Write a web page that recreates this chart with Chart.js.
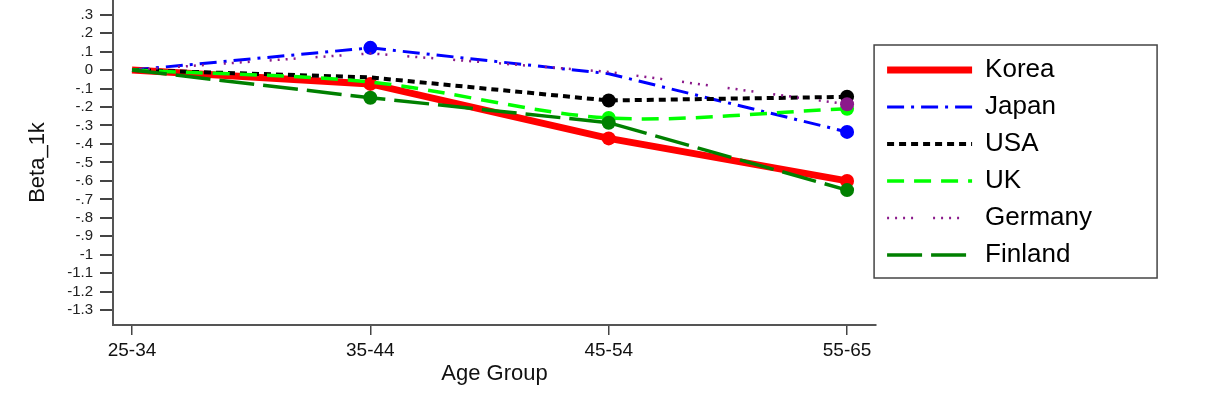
<!DOCTYPE html>
<html lang="en">
<head>
<meta charset="UTF-8">
<title>Beta_1k by Age Group</title>
<style>
    html, body{
        margin: 0;
        padding: 0;
        background: #fff;
    }
    .diagramm{
        position: relative;
        width: 1205px;
        height: 402px;
    }
</style>
</head>
<body>
<div class="diagramm">
    <canvas id="chart"></canvas>
</div>
<script src="https://cdn.jsdelivr.net/npm/chart.js"></script>
<script>
    // categories + tick labels
    const ageGroups = ['25-34', '35-44', '45-54', '55-65'];
    const yTickLabels = ['.3', '.2', '.1', '0', '-.1', '-.2', '-.3', '-.4', '-.5', '-.6', '-.7',
                         '-.8', '-.9', '-1', '-1.1', '-1.2', '-1.3'];

    // Beta_1k per country
    const korea   = [0, -0.075, -0.37, -0.6];
    const japan   = [0, 0.12, -0.02, -0.335];
    const usa     = [0, -0.04, -0.165, -0.145];
    const uk      = [0, -0.065, -0.26, -0.21];
    const germany = [0, 0.09, -0.01, -0.185];
    const finland = [0, -0.15, -0.285, -0.65];

    function punkte(werte){
        return werte.map((v, i) => ({x: i, y: v}));
    }

    function serie(name, werte, farbe, breite, strich, radien, reihenfolge, kurve){
        return {
            label: name,
            data: punkte(werte),
            borderColor: farbe,
            backgroundColor: farbe,
            borderWidth: breite,
            borderDash: strich,
            borderCapStyle: 'butt',
            pointRadius: radien,
            pointHoverRadius: radien,
            pointBorderWidth: 0,
            pointBackgroundColor: farbe,
            tension: kurve || 0,
            order: reihenfolge
        };
    }

    // legend entries as plain line samples
    function legendEintraege(chart){
        return chart.data.datasets.map((ds, i) => ({
            text: ds.label,
            datasetIndex: i,
            hidden: false,
            fillStyle: ds.borderColor,
            strokeStyle: ds.borderColor,
            lineWidth: ds.borderWidth,
            lineDash: ds.borderDash,
            lineCap: 'butt',
            pointStyle: 'line'
        }));
    }

    // frame around the legend
    const legendRahmen = {
        id: 'legendRahmen',
        afterDraw(chart){
            const lg = chart.legend;
            const boxen = lg.legendHitBoxes;
            if (!boxen || !boxen.length) return;
            const erste = boxen[0];
            const letzte = boxen[boxen.length - 1];
            const ctx = chart.ctx;
            ctx.save();
            ctx.strokeStyle = '#444';
            ctx.lineWidth = 1.5;
            ctx.strokeRect(lg.left - 2, erste.top - 12, 283, letzte.top + letzte.height - erste.top + 22);
            ctx.restore();
        }
    };

    new Chart(document.getElementById('chart'), {
        type: 'line',
        data: {
            datasets: [
                serie('Korea',   korea,   '#ff0000', 7,   [],                        [0, 7, 7, 7], 6),
                serie('Japan',   japan,   '#0000ff', 3,   [17, 7, 3, 7],             [0, 7, 0, 7], 5),
                serie('USA',     usa,     '#000000', 4,   [7, 5],                    [0, 0, 7, 7], 4),
                serie('UK',      uk,      '#00ff00', 3.5, [17, 10],                  [0, 0, 7, 7], 3, 0.3),
                serie('Germany', germany, '#8b1a8b', 2.5, [2, 6, 2, 6, 2, 6, 2, 20], [0, 0, 0, 7], 2),
                serie('Finland', finland, '#008000', 3.5, [35, 9],                   [0, 7, 7, 7], 1)
            ]
        },
        options: {
            responsive: true,
            maintainAspectRatio: false,
            animation: false,
            layout: {
                autoPadding: false,
                padding: {left: 10, right: 103, top: 0, bottom: 0}
            },
            plugins: {
                tooltip: {enabled: false},
                legend: {
                    position: 'right',
                    fullSize: false,
                    labels: {
                        usePointStyle: true,
                        pointStyle: 'line',
                        pointStyleWidth: 85,
                        padding: 11,
                        color: '#000',
                        font: {family: 'Liberation Sans, Arial, sans-serif', size: 26},
                        generateLabels: legendEintraege
                    }
                }
            },
            scales: {
                x: {
                    type: 'linear',
                    min: -0.0797,
                    max: 3.1217,
                    afterBuildTicks: (s) => { s.ticks = ageGroups.map((g, i) => ({value: i})); },
                    afterFit: (s) => { s.height = 77; s.paddingLeft = 0; s.paddingRight = 0; },
                    border: {color: '#555', width: 2},
                    grid: {drawOnChartArea: false, tickLength: 10, color: '#444', lineWidth: 1.5},
                    ticks: {
                        autoSkip: false,
                        padding: 4,
                        color: '#111',
                        font: {family: 'Liberation Sans, Arial, sans-serif', size: 19},
                        callback: (v) => ageGroups[v]
                    },
                    title: {
                        display: true,
                        text: 'Age Group',
                        color: '#111',
                        font: {family: 'Liberation Sans, Arial, sans-serif', size: 22},
                        padding: {top: 0, bottom: 15}
                    }
                },
                y: {
                    min: -1.38,
                    max: 0.379,
                    afterBuildTicks: (s) => { s.ticks = yTickLabels.map((t, i) => ({value: 0.3 - i * 0.1})); },
                    afterFit: (s) => { s.width = 103; s.paddingTop = 0; s.paddingBottom = 0; },
                    border: {color: '#555', width: 2},
                    grid: {drawOnChartArea: false, tickLength: 13, color: '#444', lineWidth: 2},
                    ticks: {
                        autoSkip: false,
                        padding: 7,
                        color: '#222',
                        font: {family: 'Liberation Sans, Arial, sans-serif', size: 15},
                        callback: (v) => yTickLabels[Math.round((0.3 - v) * 10)]
                    },
                    title: {
                        display: true,
                        text: 'Beta_1k',
                        color: '#111',
                        font: {family: 'Liberation Sans, Arial, sans-serif', size: 22},
                        padding: {top: 15, bottom: 0}
                    }
                }
            }
        },
        plugins: [legendRahmen]
    });
</script>
</body>
</html>
